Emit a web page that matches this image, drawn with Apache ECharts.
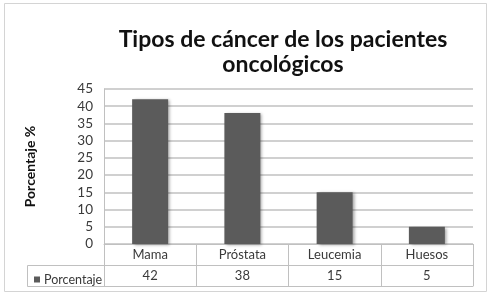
<!DOCTYPE html>
<html>
<head>
<meta charset="utf-8">
<script src="https://cdn.jsdelivr.net/npm/echarts@6/dist/echarts.min.js"></script>
<style>
  html, body { margin: 0; padding: 0; background: #fff; }
  #main { width: 491px; height: 299px; }
</style>
</head>
<body>
<div id="main"></div>
<script>
const categories = ['Mama', 'Próstata', 'Leucemia', 'Huesos']
const porcentaje = [42, 38, 15, 5]
const yTicks = { min: 0, max: 45, interval: 5 }

var font = 'Lato'
var lineColor = '#c0c0c0'
var textColor = '#3a3a3a'

var myChart = echarts.init(document.getElementById('main'))

// tabla de datos debajo del eje: fila de categorias + fila de valores
var option = {
  backgroundColor: '#fff',
  animation: false,
  title: {
    text: 'Tipos de cáncer de los pacientes\noncológicos',
    left: 278,
    top: 22,
    textAlign: 'center',
    textStyle: {
      fontFamily: font,
      fontWeight: 'bold',
      fontSize: 23,
      lineHeight: 25,
      color: '#111'
    }
  },
  legend: {
    left: 29,
    top: 268,
    itemWidth: 6,
    itemHeight: 6,
    itemGap: 4,
    icon: 'rect',
    textStyle: { fontFamily: font, fontSize: 12.5, color: textColor, padding: [0, 0, 0, -1] },
    data: ['Porcentaje']
  },
  grid: { left: 104, right: 18, top: 89, bottom: 55 },
  xAxis: [{
    type: 'category',
    data: categories,
    axisLine: { lineStyle: { color: lineColor } },
    axisTick: { show: true, length: 42, lineStyle: { color: lineColor } },
    axisLabel: { margin: 4, fontFamily: font, fontSize: 13, color: textColor }
  }, {
    type: 'category',
    data: categories,
    position: 'bottom',
    offset: 21,
    axisLine: { lineStyle: { color: lineColor } },
    axisTick: { show: false },
    axisLabel: {
      margin: 4, fontFamily: font, fontSize: 13, color: textColor,
      formatter: function(v, i) { return String(porcentaje[i]) }
    }
  }, {
    type: 'category',
    data: categories,
    position: 'bottom',
    offset: 42,
    axisLine: { lineStyle: { color: lineColor } },
    axisTick: { show: false },
    axisLabel: { show: false }
  }],
  yAxis: {
    type: 'value',
    min: yTicks.min,
    max: yTicks.max,
    interval: yTicks.interval,
    name: 'Porcentaje %',
    nameLocation: 'middle',
    nameRotate: 90,
    nameGap: 67,
    nameTextStyle: { fontFamily: font, fontWeight: 'bold', fontSize: 14, color: '#111' },
    axisLine: { show: true, lineStyle: { color: lineColor } },
    axisTick: { show: false },
    axisLabel: { margin: 11, fontFamily: font, fontSize: 13.5, color: textColor },
    splitLine: { lineStyle: { color: lineColor, width: 1.5 } }
  },
  series: [{
    name: 'Porcentaje',
    type: 'bar',
    data: porcentaje,
    barWidth: '39%',
    itemStyle: {
      color: '#5b5b5b',
      shadowColor: 'rgba(0,0,0,0.35)',
      shadowBlur: 3,
      shadowOffsetX: 2,
      shadowOffsetY: 1
    }
  }],
  graphic: [{
    // marco exterior del grafico
    type: 'rect',
    shape: { x: 4.5, y: 3.5, width: 482, height: 288 },
    style: { fill: 'none', stroke: '#d4d4d4', lineWidth: 1 },
    silent: true
  }, {
    // celda de la leyenda en la tabla
    type: 'rect',
    shape: { x: 27.5, y: 265.5, width: 77, height: 21 },
    style: { fill: 'none', stroke: lineColor, lineWidth: 1 },
    silent: true
  }]
}

myChart.setOption(option)
</script>
</body>
</html>
